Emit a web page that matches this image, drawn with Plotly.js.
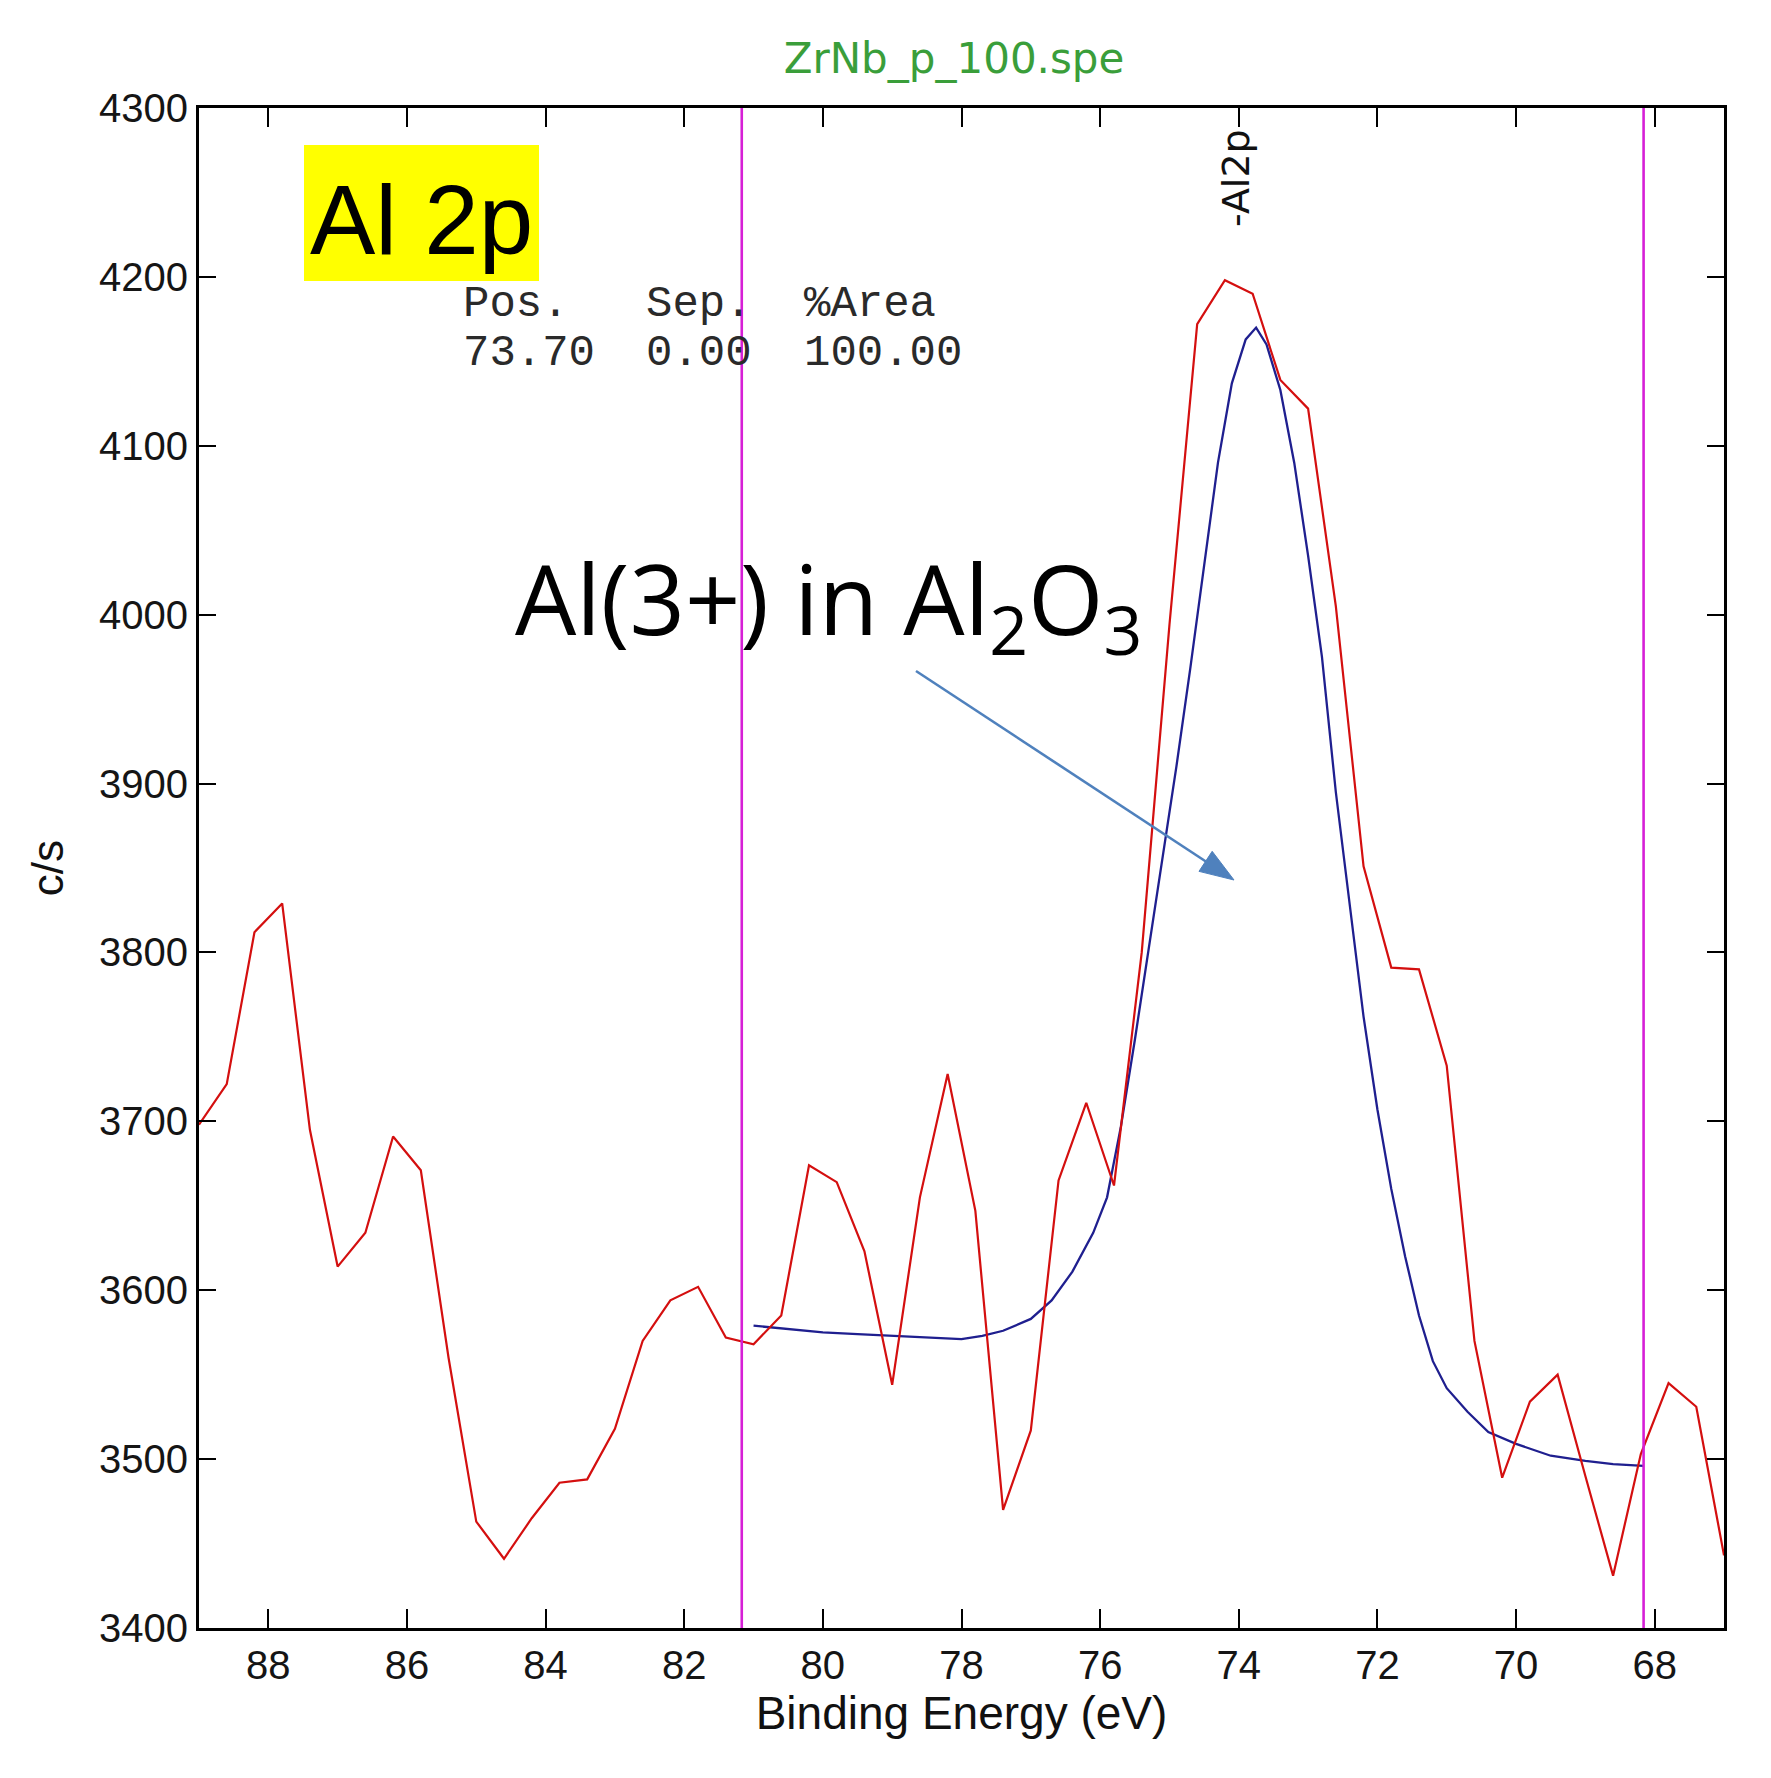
<!DOCTYPE html>
<html>
<head>
<meta charset="utf-8">
<script src="https://cdn.plot.ly/plotly-3.0.1.min.js"></script>
<style>
  html, body { margin: 0; padding: 0; background: #ffffff; }
  #chart { width: 1771px; height: 1778px; }
</style>
</head>
<body>
<div id="chart"></div>
<script>
// ---------- data ----------
const bindingEnergy = [89.0, 88.6, 88.2, 87.8, 87.4, 87.0, 86.6, 86.2, 85.8, 85.4, 85.0, 84.6, 84.2, 83.8,
  83.4, 83.0, 82.6, 82.2, 81.8, 81.4, 81.0, 80.6, 80.2, 79.8, 79.4, 79.0, 78.6, 78.2, 77.8, 77.4, 77.0,
  76.6, 76.2, 75.8, 75.4, 75.0, 74.6, 74.2, 73.8, 73.4, 73.0, 72.6, 72.2, 71.8, 71.4, 71.0, 70.6, 70.2,
  69.8, 69.4, 69.0, 68.6, 68.2, 67.8, 67.4, 67.0];
const counts = [3698, 3722, 3812, 3829, 3695, 3614, 3634, 3691, 3671, 3560, 3463, 3441, 3465, 3486,
  3488, 3518, 3570, 3594, 3602, 3572, 3568, 3585, 3674, 3664, 3623, 3544, 3655, 3728, 3647, 3470, 3517,
  3665, 3711, 3662, 3800, 3994, 4172, 4198, 4190, 4139, 4122, 4005, 3851, 3791, 3790, 3733, 3570, 3489,
  3534, 3550, 3490, 3431, 3503, 3545, 3531, 3443];

const fitEnergy = [81.0, 80.5, 80.0, 79.5, 79.0, 78.5, 78.0, 77.7, 77.4, 77.0, 76.7, 76.4, 76.1, 75.9,
  75.7, 75.5, 75.3, 75.1, 74.9, 74.7, 74.5, 74.3, 74.1, 73.9, 73.75, 73.6, 73.4, 73.2, 73.0, 72.8, 72.6,
  72.4, 72.2, 72.0, 71.8, 71.6, 71.4, 71.2, 71.0, 70.7, 70.4, 70.0, 69.5, 69.0, 68.6, 68.16];
const fitCounts = [3579, 3577, 3575, 3574, 3573, 3572, 3571, 3573, 3576, 3583, 3594, 3611, 3634, 3655,
  3697, 3748, 3802, 3855, 3910, 3968, 4030, 4090, 4137, 4163, 4170, 4160, 4133, 4090, 4035, 3975, 3895,
  3827, 3762, 3707, 3660, 3620, 3585, 3558, 3542, 3528, 3516, 3509, 3502, 3499, 3497, 3496];

const regionBounds = [81.17, 68.16];          // magenta region markers (eV)
const xTickVals = [88, 86, 84, 82, 80, 78, 76, 74, 72, 70, 68];
const xTickText = ["88", "86", "84", "82", "80", "78", "76", "74", "72", "70", "68"];
const yTickVals = [3400, 3500, 3600, 3700, 3800, 3900, 4000, 4100, 4200, 4300];
const yTickText = ["3400", "3500", "3600", "3700", "3800", "3900", "4000", "4100", "4200", "4300"];

const tableHeaders = ["Pos.", "Sep.", "%Area"];
const tableValues = ["73.70", "0.00", "100.00"];

const fileTitle = "ZrNb_p_100.spe";
const xTitle = "Binding Energy (eV)";
const yTitle = "c/s";
const regionLabel = "Al 2p";
const peakLabel = "Al(3+) in Al<sub>2</sub>O<sub>3</sub>";
const peakMarker = "-Al2p";

// ---------- layout helpers (pixel -> paper) ----------
const W = 1771, H = 1778;
const L = 199, R = 1724, T = 108, B = 1628;
const px = x => (x - L) / (R - L);
const py = y => (B - y) / (B - T);

const traces = [
  {
    x: fitEnergy, y: fitCounts, type: 'scatter', mode: 'lines',
    line: { color: '#1f1f8f', width: 2.3 }, hoverinfo: 'skip'
  },
  {
    x: bindingEnergy, y: counts, type: 'scatter', mode: 'lines',
    line: { color: '#d40f0f', width: 2.2 }, hoverinfo: 'skip'
  }
];

const shapes = [
  { type: 'rect', xref: 'paper', yref: 'paper', x0: px(304), x1: px(539), y0: py(281), y1: py(145),
    fillcolor: '#ffff00', line: { width: 0 }, layer: 'above' }
];
regionBounds.forEach(v => shapes.push({
  type: 'line', xref: 'x', yref: 'paper', x0: v, x1: v, y0: 0, y1: 1,
  line: { color: '#d61fd6', width: 2.6 }, layer: 'above'
}));

// pointer arrow (pixel geometry -> paper)
const tail = [916, 671], head = [1234, 880];
const dx = head[0] - tail[0], dy = head[1] - tail[1], len = Math.hypot(dx, dy);
const ux = dx / len, uy = dy / len, nx = -uy, ny = ux;
const headLen = 34, headHalf = 12;
const base = [head[0] - headLen * ux, head[1] - headLen * uy];
shapes.push({ type: 'line', xref: 'paper', yref: 'paper',
  x0: px(tail[0]), y0: py(tail[1]), x1: px(base[0] + 4 * ux), y1: py(base[1] + 4 * uy),
  line: { color: '#4f81bd', width: 2.6 }, layer: 'above' });
shapes.push({ type: 'path', xref: 'paper', yref: 'paper', layer: 'above',
  path: 'M ' + px(head[0]) + ',' + py(head[1]) +
        ' L ' + px(base[0] + headHalf * nx) + ',' + py(base[1] + headHalf * ny) +
        ' L ' + px(base[0] - headHalf * nx) + ',' + py(base[1] - headHalf * ny) + ' Z',
  fillcolor: '#4f81bd', line: { color: '#4f81bd', width: 1 } });

const colX = [461, 644, 802];
const annotations = [
  { text: regionLabel, xref: 'paper', yref: 'paper', x: px(421), y: py(220), showarrow: false,
    xanchor: 'center', yanchor: 'middle', font: { family: 'Liberation Sans', size: 98, color: '#000000' } },
  { text: peakLabel, xref: 'paper', yref: 'paper', x: px(828), y: py(603), showarrow: false,
    xanchor: 'center', yanchor: 'middle', font: { family: 'Open Sans', size: 97, color: '#000000' } },
  { text: peakMarker, xref: 'paper', yref: 'paper', x: px(1236), y: py(178), showarrow: false, textangle: -90,
    xanchor: 'center', yanchor: 'middle', font: { family: 'DejaVu Sans', size: 38, color: '#111111' } }
];
tableHeaders.forEach((h, i) => annotations.push({
  text: h, xref: 'paper', yref: 'paper', x: px(colX[i]), y: py(304), showarrow: false,
  xanchor: 'left', yanchor: 'middle', font: { family: 'Liberation Mono', size: 44, color: '#2a2a2a' }
}));
tableValues.forEach((v, i) => annotations.push({
  text: v, xref: 'paper', yref: 'paper', x: px(colX[i]), y: py(353), showarrow: false,
  xanchor: 'left', yanchor: 'middle', font: { family: 'Liberation Mono', size: 44, color: '#2a2a2a' }
}));

const axisCommon = {
  showgrid: false, zeroline: false, showline: true, linecolor: '#000000', linewidth: 3,
  mirror: 'ticks', ticks: 'inside', tickcolor: '#000000', tickwidth: 2,
  tickfont: { family: 'Liberation Sans', size: 40, color: '#151515' }
};

const layout = {
  width: W, height: H,
  paper_bgcolor: '#ffffff', plot_bgcolor: '#ffffff',
  margin: { l: L, r: W - R, t: T, b: H - B, pad: 0 },
  showlegend: false,
  title: {
    text: fileTitle, xref: 'paper', x: px(954), xanchor: 'center',
    yref: 'container', y: 1 - 58 / H, yanchor: 'middle',
    font: { family: 'DejaVu Sans', size: 42, color: '#3a9e3a' }
  },
  xaxis: Object.assign({}, axisCommon, {
    range: [89, 67], autorange: false,
    tickmode: 'array', tickvals: xTickVals, ticktext: xTickText, ticklen: 19,
    title: { text: xTitle, standoff: 8, font: { family: 'Liberation Sans', size: 46, color: '#111111' } }
  }),
  yaxis: Object.assign({}, axisCommon, {
    range: [3400, 4300], autorange: false,
    tickmode: 'array', tickvals: yTickVals, ticktext: yTickText, ticklen: 17,
    title: { text: yTitle, standoff: 22, font: { family: 'Liberation Sans', size: 44, color: '#111111' } }
  }),
  shapes: shapes,
  annotations: annotations
};

Plotly.newPlot('chart', traces, layout, { displayModeBar: false, staticPlot: true });
</script>
</body>
</html>
